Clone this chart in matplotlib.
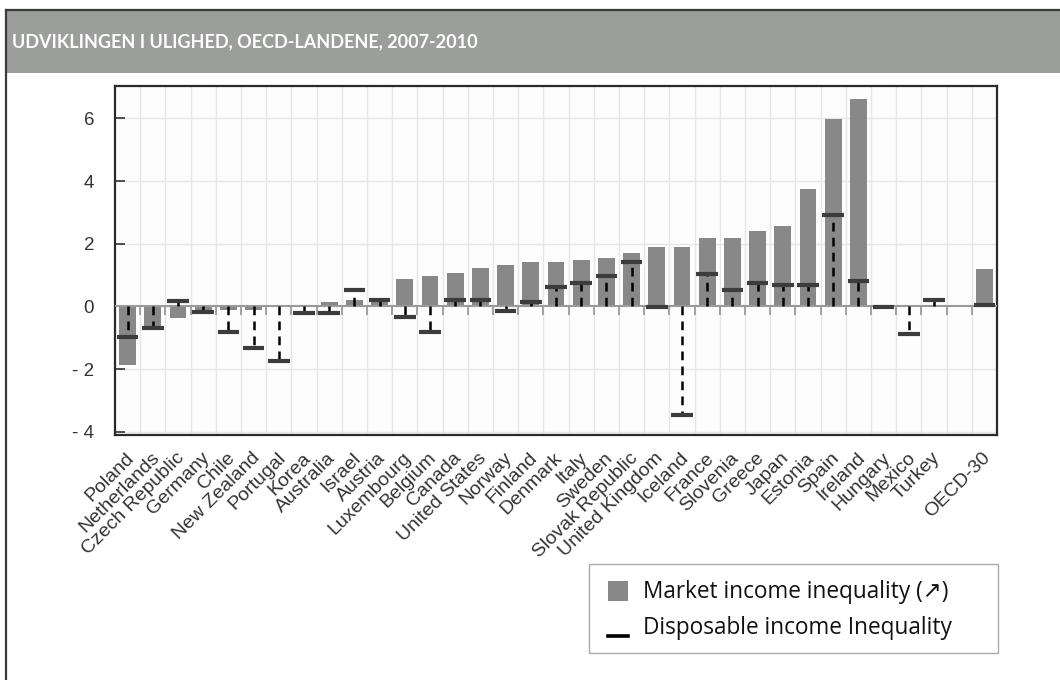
import numpy as np
import matplotlib
matplotlib.use("Agg")
import matplotlib.pyplot as plt
from matplotlib.patches import Rectangle
from matplotlib.lines import Line2D

countries = ["Poland", "Netherlands", "Czech Republic", "Germany", "Chile", "New Zealand",
             "Portugal", "Korea", "Australia", "Israel", "Austria", "Luxembourg", "Belgium",
             "Canada", "United States", "Norway", "Finland", "Denmark", "Italy", "Sweden",
             "Slovak Republic", "United Kingdom", "Iceland", "France", "Slovenia", "Greece",
             "Japan", "Estonia", "Spain", "Ireland", "Hungary", "Mexico", "Turkey", "",
             "OECD-30"]
market = [-1.87, -0.66, -0.37, -0.15, -0.12, -0.10, -0.03, 0.05, 0.13, 0.19, 0.27, 0.88,
          0.96, 1.08, 1.24, 1.31, 1.42, 1.42, 1.49, 1.54, 1.72, 1.89, 1.89, 2.18, 2.18,
          2.42, 2.55, 3.74, 5.97, 6.61, -0.04, 0.0, 0.0, np.nan, 1.19]
disposable = [-0.97, -0.69, 0.16, -0.18, -0.82, -1.33, -1.75, -0.21, -0.21, 0.51, 0.21,
              -0.33, -0.82, 0.21, 0.21, -0.16, 0.15, 0.62, 0.74, 0.96, 1.43, -0.03, -3.45,
              1.03, 0.51, 0.74, 0.67, 0.67, 2.92, 0.80, -0.02, -0.87, 0.21, np.nan, 0.03]
ytick_vals = [-4, -2, 0, 2, 4, 6]
ytick_labels = ["- 4", "- 2", "0", "2", "4", "6"]
title = "UDVIKLINGEN I ULIGHED, OECD-LANDENE, 2007-2010"
legend_labels = ["Market income inequality (\u2197)", "Disposable income Inequality"]

W, H = 1060, 680
fig = plt.figure(figsize=(W / 100, H / 100), dpi=100)
fig.patch.set_facecolor("white")

def fx(px):
    return px / W

def fy(py):
    return 1 - py / H

# header band and outer frame
fig.add_artist(Rectangle((fx(6), fy(73)), 1.0, fy(10) - fy(73), transform=fig.transFigure,
                         facecolor="#9c9e9c", edgecolor="none", zorder=0))
fig.add_artist(Line2D([fx(6), 1.0], [fy(10), fy(10)], transform=fig.transFigure,
                      color="#3a3a3a", lw=1.6))
fig.add_artist(Line2D([fx(6), fx(6)], [fy(10), 0.0], transform=fig.transFigure,
                      color="#3a3a3a", lw=1.6))
fig.text(fx(12), fy(42), title, color="white", fontsize=13, fontweight="bold",
         family=["Lato", "DejaVu Sans"], ha="left", va="center")

ax = fig.add_axes([fx(115), fy(435), fx(997) - fx(115), fy(86) - fy(435)])
ax.set_facecolor("#fdfdfd")
n = len(countries)
x = np.arange(n)
mk = np.array(market, dtype=float)
dp = np.array(disposable, dtype=float)

ax.set_xlim(-0.5, n - 0.5)
ax.set_ylim(-4.1, 7.03)

# grid
for b in np.arange(0.5, n - 0.5, 1.0):
    ax.axvline(b, color="#e6e6e6", lw=1.0, zorder=0)
for v in ytick_vals:
    if v != 0:
        ax.axhline(v, color="#e6e6e6", lw=1.0, zorder=0)

ax.bar(x, mk, width=0.66, color="#888888", zorder=2)
ax.axhline(0, color="#9a9a9a", lw=1.5, zorder=3)
# tick marks on the zero line
ax.vlines(np.arange(0.5, n - 0.5, 1.0), -0.26, 0, color="#9a9a9a", lw=1.3, zorder=3)

valid = ~np.isnan(dp)
ax.vlines(x[valid], 0, dp[valid], color="black", lw=1.8, linestyles=(0, (3.5, 2.5)), zorder=4)
ax.hlines(dp[valid], x[valid] - 0.43, x[valid] + 0.43, color="#3c3c3c", lw=3.0, zorder=5)

ax.set_yticks(ytick_vals)
ax.set_yticklabels(ytick_labels, family=["Liberation Sans", "DejaVu Sans"], fontsize=13.5,
                   color="#333333")
ax.tick_params(axis="y", direction="in", length=7, width=1.2, color="#333333", pad=15)
ax.set_xticks(x)
ax.set_xticklabels([])
ax.tick_params(axis="x", length=0)
for i, c in enumerate(countries):
    if c:
        ax.text(i + 0.15, -4.75, c, rotation=45, rotation_mode="anchor", ha="right", va="center",
                fontsize=14, color="#333333", family=["Liberation Sans", "DejaVu Sans"])
for s in ax.spines.values():
    s.set_color("#2a2a2a")
    s.set_linewidth(1.6)

# legend
fig.add_artist(Rectangle((fx(589), fy(653)), fx(998) - fx(589), fy(564) - fy(653),
                         transform=fig.transFigure, facecolor="white", edgecolor="#aaaaaa",
                         lw=1.0))
fig.add_artist(Rectangle((fx(608), fy(601)), fx(628) - fx(608), fy(581) - fy(601),
                         transform=fig.transFigure, facecolor="#888888", edgecolor="none"))
fig.add_artist(Line2D([fx(608), fx(628)], [fy(636), fy(636)], transform=fig.transFigure,
                      color="black", lw=2.6))
fig.text(fx(643), fy(592), legend_labels[0], fontsize=16.3, color="#111111",
         family=["Open Sans", "DejaVu Sans"], ha="left", va="center")
fig.text(fx(643), fy(628), legend_labels[1], fontsize=16.3, color="#111111",
         family=["Open Sans", "DejaVu Sans"], ha="left", va="center")

fig.savefig("out.png", dpi=100)
